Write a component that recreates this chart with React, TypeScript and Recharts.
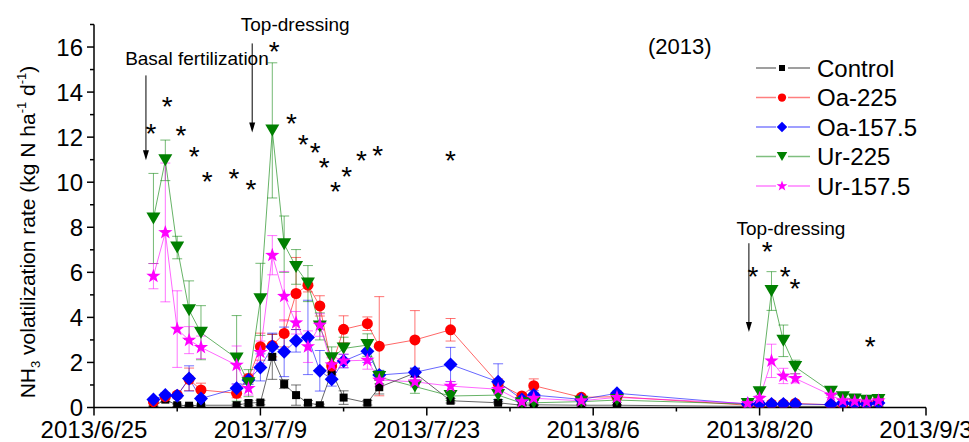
import React from "react";
import {
  ComposedChart,
  Line,
  Scatter,
  XAxis,
  YAxis,
  ErrorBar,
  ReferenceLine,
  Legend,
} from "recharts";

// sampling dates (2013)
const dates = [
  "2013/6/30", "2013/7/1", "2013/7/2", "2013/7/3", "2013/7/4", "2013/7/7", "2013/7/8",
  "2013/7/9", "2013/7/10", "2013/7/11", "2013/7/12", "2013/7/13", "2013/7/14", "2013/7/15",
  "2013/7/16", "2013/7/18", "2013/7/19", "2013/7/22", "2013/7/25", "2013/7/29", "2013/7/31",
  "2013/8/1", "2013/8/5", "2013/8/8", "2013/8/19", "2013/8/20", "2013/8/21", "2013/8/22",
  "2013/8/23", "2013/8/26", "2013/8/27", "2013/8/28", "2013/8/29", "2013/8/30",
];

const control = [
  0.05, 0.35, 0.1, 0.08, 0.1, 0.1, 0.2, 0.22, 2.25, 1.04, 0.55, 0.21, 0.1, 1.59, 0.44, 0.21,
  0.9, 1.53, 0.3, 0.21, 0.1, 0.12, 0.1, 0.1, 0.05, 0.05, 0.05, 0.05, 0.05, 0.05, 0.05, 0.05,
  0.05, 0.05,
];
const controlErr = [
  0.02, 0.1, 0.05, 0.03, 0.05, 0.05, 0.1, 0.1, 1.0, 0.2, 0.45, 0.1, 0.05, 0.3, 0.3, 0.1,
  0.3, 0.2, 0.1, 0.05, 0.03, 0.03, 0.03, 0.03, 0.02, 0.02, 0.02, 0.02, 0.02, 0.02, 0.02,
  0.02, 0.02, 0.02,
];

const oa225 = [
  0.26, 0.48, 0.55, 1.25, 0.78, 0.63, 1.29, 2.7, 2.75, 3.29, 5.06, 5.43, 4.51, 1.84, 3.47,
  3.72, 2.72, 3.0, 3.45, 1.07, 0.51, 0.97, 0.45, 0.48, 0.1, 0.12, 0.15, 0.15, 0.18, 0.12,
  0.15, 0.2, 0.2, 0.33,
];
const oa225Err = [
  0.05, 0.1, 0.1, 0.5, 0.3, 0.2, 0.2, 0.6, 0.5, 0.6, 1.6, 0.3, 0.45, 0.4, 0.6, 0.3, 2.2,
  1.3, 0.5, 0.2, 0.1, 0.3, 0.1, 0.1, 0.02, 0.03, 0.03, 0.03, 0.05, 0.03, 0.03, 0.05, 0.05,
  0.08,
];

const oa157 = [
  0.36, 0.55, 0.52, 1.29, 0.4, 0.85, 1.22, 1.78, 2.7, 2.47, 2.96, 3.11, 1.63, 1.25, 2.06,
  2.5, 1.44, 1.56, 1.91, 1.14, 0.36, 0.55, 0.36, 0.63, 0.15, 0.16, 0.15, 0.15, 0.15, 0.13,
  0.2, 0.15, 0.15, 0.2,
];
const oa157Err = [
  0.05, 0.1, 0.1, 0.56, 0.1, 0.2, 0.2, 0.6, 0.6, 1.1, 0.5, 1.65, 0.9, 0.3, 0.3, 0.5, 0.2,
  0.2, 0.76, 0.8, 0.1, 0.2, 0.1, 0.1, 0.03, 0.03, 0.03, 0.03, 0.03, 0.03, 0.03, 0.03, 0.03,
  0.03,
];

const ur225 = [
  8.39, 10.97, 7.1, 4.32, 3.32, 2.18, 1.08, 4.8, 12.3, 7.25, 6.24, 5.5, 3.6, 2.19, 2.62,
  2.77, 1.35, 0.93, 0.51, 0.55, 0.19, 0.21, 0.26, 0.33, 0.15, 0.68, 5.17, 2.96, 1.8, 0.7,
  0.45, 0.36, 0.3, 0.33,
];
const ur225Err = [
  2.0, 0.9, 0.5, 1.3, 1.2, 1.9, 0.6, 1.6, 3.0, 1.25, 0.77, 0.8, 0.6, 0.5, 0.5, 0.5, 0.3,
  0.3, 0.2, 0.2, 0.1, 0.1, 0.1, 0.1, 0.05, 0.2, 0.86, 0.7, 0.3, 0.15, 0.1, 0.1, 0.1, 0.1,
];

const ur157 = [
  5.83, 7.77, 3.48, 2.99, 2.67, 1.88, 0.85, 2.45, 6.76, 4.94, 3.76, 2.7, 3.66, 1.9, 2.07,
  2.1, 1.22, 1.14, 0.95, 0.81, 0.26, 0.41, 0.3, 0.45, 0.18, 0.41, 2.07, 1.4, 1.29, 0.55,
  0.3, 0.28, 0.25, 0.3,
];
const ur157Err = [
  0.56, 3.08, 1.7, 0.6, 0.5, 0.85, 0.3, 0.5, 0.87, 1.1, 0.5, 0.7, 0.5, 0.3, 0.3, 0.4, 0.3,
  0.2, 0.2, 0.2, 0.05, 0.1, 0.05, 0.1, 0.03, 0.1, 0.74, 0.34, 0.2, 0.1, 0.05, 0.05, 0.05,
  0.05,
];

// significance asterisks (day since 6/25, height)
const starDays = [
  4.79, 6.16, 7.32, 8.43, 9.53, 11.77, 13.2, 15.16, 16.62, 17.6, 18.61, 19.36, 20.32, 21.27,
  22.51, 23.86, 29.99, 55.44, 56.65, 58.16, 58.97, 65.31,
];
const starHeights = [
  12.45, 13.66, 12.38, 11.45, 10.32, 10.45, 9.96, 16.07, 12.89, 11.96, 11.6, 10.94, 9.89,
  10.56, 11.27, 11.49, 11.27, 6.09, 7.23, 6.09, 5.58, 2.99,
];

// fertilization arrows
const arrowLabels = ["Basal fertilization", "Top-dressing", "Top-dressing"];
const arrowDays = [4.37, 13.31, 55.1];
const arrowTops = [14.74, 16.16, 7.29];
const arrowBottoms = [10.97, 12.21, 3.35];
const arrowLabelOffsets = [
  { dx: 51, dy: -10 },
  { dx: 43, dy: -12 },
  { dx: 42, dy: -8 },
];

const xTicks = [0, 7, 14, 21, 28, 35, 42, 49, 56, 63, 70];
const xTickLabels = ["2013/6/25", "2013/7/9", "2013/7/23", "2013/8/6", "2013/8/20", "2013/9/3"];
const yTicks = [0, 1, 2, 3, 4, 5, 6, 7, 8, 9, 10, 11, 12, 13, 14, 15, 16, 17];

const FONT = "'Liberation Sans', Arial, sans-serif";
const START = Date.UTC(2013, 5, 25);

const toDay = (s: string) => {
  const [y, m, d] = s.split("/").map(Number);
  return (Date.UTC(y, m - 1, d) - START) / 86400000;
};

const series = [
  { key: "control", name: "Control", color: "#000000", marker: "square", values: control, errs: controlErr },
  { key: "oa225", name: "Oa-225", color: "#ff0000", marker: "circle", values: oa225, errs: oa225Err },
  { key: "oa157", name: "Oa-157.5", color: "#0000ff", marker: "diamond", values: oa157, errs: oa157Err },
  { key: "ur225", name: "Ur-225", color: "#008000", marker: "triangle", values: ur225, errs: ur225Err },
  { key: "ur157", name: "Ur-157.5", color: "#ff00ff", marker: "star", values: ur157, errs: ur157Err },
];

const data = dates.map((d, i) => {
  const row: Record<string, number> = { day: toDay(d) };
  series.forEach((s) => {
    row[s.key] = s.values[i];
    row[s.key + "Err"] = s.errs[i];
  });
  return row;
});

const starData = starDays.map((d, i) => ({ day: d, val: starHeights[i] }));

function starPoints(cx: number, cy: number, R: number, r: number) {
  const pts: string[] = [];
  for (let k = 0; k < 10; k++) {
    const a = (-90 + k * 36) * (Math.PI / 180);
    const rad = k % 2 === 0 ? R : r;
    pts.push(`${cx + rad * Math.cos(a)},${cy + rad * Math.sin(a)}`);
  }
  return pts.join(" ");
}

function Marker({ kind, cx, cy, color, scale = 1 }: any) {
  if (cx == null || cy == null) return null;
  const k = scale;
  switch (kind) {
    case "square":
      return <rect x={cx - 4 * k} y={cy - 4 * k} width={8 * k} height={8 * k} fill={color} />;
    case "circle":
      return <circle cx={cx} cy={cy} r={5.5 * k} fill={color} />;
    case "diamond":
      return (
        <polygon
          points={`${cx},${cy - 7 * k} ${cx + 7 * k},${cy} ${cx},${cy + 7 * k} ${cx - 7 * k},${cy}`}
          fill={color}
        />
      );
    case "triangle":
      return (
        <polygon
          points={`${cx - 7 * k},${cy - 6 * k} ${cx + 7 * k},${cy - 6 * k} ${cx},${cy + 6 * k}`}
          fill={color}
        />
      );
    default:
      return <polygon points={starPoints(cx, cy, 7.5 * k, 3 * k)} fill={color} />;
  }
}

const makeDot = (kind: string, color: string) => (props: any) => (
  <g key={`${kind}-${props.index}`}>
    <Marker kind={kind} cx={props.cx} cy={props.cy} color={color} />
  </g>
);

const XTick = (props: any) => {
  const { x, y, payload } = props;
  const major = payload.value % 14 === 0;
  return (
    <g>
      <line x1={x} y1={y} x2={x} y2={y + (major ? 8 : 4)} stroke="#000" strokeWidth={1.5} />
      {major && (
        <text x={x} y={y + 30} textAnchor="middle" fontSize={24} fontFamily={FONT} fill="#000">
          {xTickLabels[payload.value / 14]}
        </text>
      )}
    </g>
  );
};

const YTick = (props: any) => {
  const { x, y, payload } = props;
  const major = payload.value % 2 === 0;
  return (
    <g>
      <line x1={x} y1={y} x2={x - (major ? 7 : 4)} y2={y} stroke="#000" strokeWidth={1.5} />
      {major && (
        <text x={x - 11} y={y + 8.5} textAnchor="end" fontSize={24} fontFamily={FONT} fill="#000">
          {payload.value}
        </text>
      )}
    </g>
  );
};

const YTitle = () => (
  <text
    x={35}
    y={232}
    transform="rotate(-90, 35, 232)"
    textAnchor="middle"
    fontSize={21}
    fontFamily={FONT}
    fill="#000"
  >
    <tspan>NH</tspan>
    <tspan fontSize={13} dy={5}>3</tspan>
    <tspan dy={-5}> volatilization rate (kg N ha</tspan>
    <tspan fontSize={13} dy={-9}>-1</tspan>
    <tspan dy={9}> d</tspan>
    <tspan fontSize={13} dy={-9}>-1</tspan>
    <tspan dy={9}>)</tspan>
  </text>
);

const arrowShape = (label: string, dx: number, dy: number) => (props: any) => {
  const { x1, y1, y2 } = props;
  const top = Math.min(y1, y2);
  const bot = Math.max(y1, y2);
  return (
    <g>
      <line x1={x1} y1={top} x2={x1} y2={bot - 6} stroke="#000" strokeWidth={1} />
      <polygon points={`${x1 - 3},${bot - 10} ${x1 + 3},${bot - 10} ${x1},${bot}`} fill="#000" />
      <text x={x1 + dx} y={top + dy} textAnchor="middle" fontSize={19} fontFamily={FONT} fill="#000">
        {label}
      </text>
    </g>
  );
};

const Asterisk = (props: any) => (
  <text x={props.cx} y={props.cy + 16} textAnchor="middle" fontSize={28} fontFamily={FONT} fill="#000">
    *
  </text>
);

const LegendBox = () => (
  <svg width={215} height={140} style={{ overflow: "visible" }}>
    {series.map((s, i) => {
      const y = 16 + i * 29.5;
      return (
        <g key={s.key}>
          <line x1={6} y1={y} x2={26} y2={y} stroke={s.color} strokeOpacity={0.5} strokeWidth={1.5} />
          <line x1={38} y1={y} x2={60} y2={y} stroke={s.color} strokeOpacity={0.5} strokeWidth={1.5} />
          <Marker kind={s.marker} cx={32} cy={y} color={s.color} scale={0.75} />
          <text x={67} y={y + 8.5} fontSize={24} fontFamily={FONT} fill="#000">
            {s.name}
          </text>
        </g>
      );
    })}
  </svg>
);

export default function App() {
  return (
    <div style={{ position: "absolute", left: 0, top: 0, width: 969, height: 442, background: "#fff" }}>
      <ComposedChart
        width={969}
        height={442}
        data={data}
        margin={{ top: 24.5, right: 43, bottom: 0, left: 0 }}
      >
        <XAxis
          type="number"
          dataKey="day"
          domain={[0, 70]}
          ticks={xTicks}
          interval={0}
          tick={XTick}
          tickLine={false}
          tickSize={0}
          tickMargin={0}
          height={34.5}
          axisLine={{ stroke: "#000", strokeWidth: 1.5 }}
          allowDataOverflow
        />
        <YAxis
          type="number"
          domain={[0, 17]}
          ticks={yTicks}
          interval={0}
          tick={YTick}
          tickLine={false}
          tickSize={0}
          tickMargin={0}
          width={94}
          axisLine={{ stroke: "#000", strokeWidth: 1.5 }}
          label={{ content: YTitle }}
          allowDataOverflow
        />
        {series.map((s) => (
          <Line
            key={s.key}
            dataKey={s.key}
            name={s.name}
            type="linear"
            stroke={s.color}
            strokeOpacity={0.6}
            strokeWidth={1}
            dot={makeDot(s.marker, s.color)}
            activeDot={false}
            isAnimationActive={false}
          >
            <ErrorBar
              dataKey={s.key + "Err"}
              direction="y"
              width={5}
              stroke={s.color}
              strokeOpacity={0.55}
              strokeWidth={1}
              isAnimationActive={false}
            />
          </Line>
        ))}
        <Scatter data={starData} dataKey="val" shape={Asterisk} isAnimationActive={false} />
        {arrowLabels.map((lab, i) => (
          <ReferenceLine
            key={i}
            segment={[
              { x: arrowDays[i], y: arrowTops[i] },
              { x: arrowDays[i], y: arrowBottoms[i] },
            ]}
            ifOverflow="visible"
            shape={arrowShape(lab, arrowLabelOffsets[i].dx, arrowLabelOffsets[i].dy)}
          />
        ))}
        <Legend
          layout="horizontal"
          align="center"
          verticalAlign="middle"
          content={LegendBox}
          wrapperStyle={{ left: 750, top: 52, width: 215, height: 140 }}
        />
      </ComposedChart>
      <div
        style={{
          position: "absolute",
          left: 648,
          top: 36,
          fontSize: 22,
          lineHeight: "22px",
          fontFamily: FONT,
          color: "#000",
        }}
      >
        (2013)
      </div>
    </div>
  );
}
